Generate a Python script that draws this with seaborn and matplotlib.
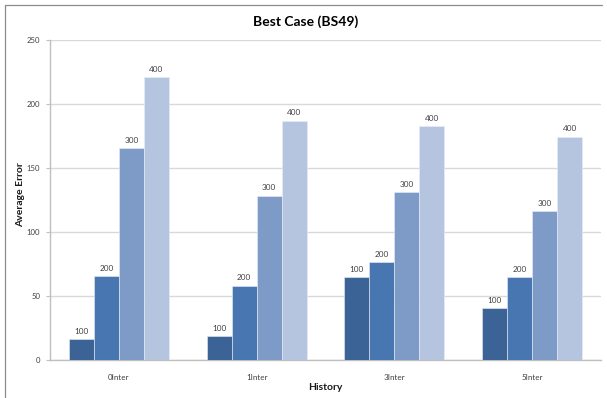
import matplotlib
matplotlib.use("Agg")
import matplotlib.pyplot as plt
from matplotlib.lines import Line2D
import seaborn as sns
import pandas as pd

# Chart data
categories = ["0Inter", "1Inter", "3Inter", "5Inter"]
series_names = ["100", "200", "300", "400"]
s100 = [16.3, 18.5, 64.6, 40.6]
s200 = [65.6, 58.1, 76.8, 64.6]
s300 = [165.8, 128.4, 131.5, 116.4]
s400 = [220.8, 187.0, 183.0, 174.6]
y_ticks = [0, 50, 100, 150, 200, 250]

colors = ["#3C6395", "#4876B1", "#7E9BC8", "#B5C4DF"]

rows = []
for name, vals in zip(series_names, [s100, s200, s300, s400]):
    for cat, v in zip(categories, vals):
        rows.append({"History": cat, "Series": name, "Average Error": v})
df = pd.DataFrame(rows)

sns.set_theme(style="white")
plt.rcParams["font.family"] = ["Lato", "DejaVu Sans"]

W, H = 607, 398
fig = plt.figure(figsize=(W / 100, H / 100), dpi=100)
ax = fig.add_axes([50 / W, 1 - 360 / H, 551 / W, 320 / H])

sns.barplot(data=df, x="History", y="Average Error", hue="Series",
            order=categories, hue_order=series_names, palette=colors,
            width=0.727, gap=0, saturation=1, errorbar=None,
            edgecolor="#E8EEF7", linewidth=0.4, ax=ax, legend=False, zorder=3)

for cont, name in zip(ax.containers, series_names):
    ax.bar_label(cont, labels=[name] * len(cont), padding=3,
                 fontsize=5.9, color="#404040")

ax.set_ylim(0, 250)
ax.set_yticks(y_ticks)
ax.set_xlim(-0.5, len(categories) - 0.5)
ax.yaxis.grid(True, color="#D9D9D9", linewidth=1.0, zorder=0)
ax.set_axisbelow(True)

for side in ["top", "right"]:
    ax.spines[side].set_visible(False)
for side in ["left", "bottom"]:
    ax.spines[side].set_color("#BFBFBF")
    ax.spines[side].set_linewidth(1.0)

ax.tick_params(axis="y", which="major", left=True, length=3, width=0.8,
               color="#BFBFBF", labelsize=5.6, labelcolor="#404040", pad=4)
ax.tick_params(axis="x", which="major", bottom=False, labelsize=5.8,
               labelcolor="#404040", pad=4)

ax.set_xlabel("")
ax.set_ylabel("")
fig.text(325 / W, 1 - 387 / H, "History", ha="center", va="center",
         fontsize=7.5, fontweight="bold", color="#1a1a1a")
fig.text(21 / W, 1 - 195 / H, "Average Error", ha="center", va="center",
         rotation=90, fontsize=7.5, fontweight="bold", color="#1a1a1a")

fig.text(306 / W, 1 - 22 / H, "Best Case (BS49)", ha="center", va="center",
         fontsize=10, fontweight="bold", color="#000000")

# outer chart frame (top and left edges)
fig.add_artist(Line2D([5 / W, 602 / W], [1 - 5 / H, 1 - 5 / H],
                      transform=fig.transFigure, color="#8C8C8C", linewidth=0.9))
fig.add_artist(Line2D([5 / W, 5 / W], [1 - 5 / H, 0],
                      transform=fig.transFigure, color="#8C8C8C", linewidth=0.9))

fig.savefig("out.png", dpi=100, facecolor="white")
